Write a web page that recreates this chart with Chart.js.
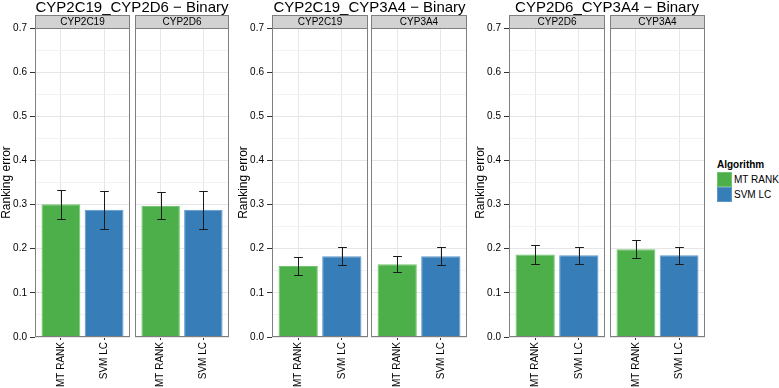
<!DOCTYPE html>
<html>
<head>
<meta charset="utf-8">
<script src="https://cdn.jsdelivr.net/npm/chart.js@4/dist/chart.umd.min.js"></script>
<style>
  body { margin: 0; background: #fff; }
  #wrap { position: relative; width: 779px; height: 388px; overflow: hidden; font-family: "Liberation Sans", Arial, sans-serif; color: #000; }
  canvas { position: absolute; top: 0; }
  .title { position: absolute; top: -1px; font-size: 15px; line-height: 15px; white-space: nowrap; transform: translateX(-50%); }
  .legTitle { position: absolute; left: 717px; top: 160px; font-size: 10px; line-height: 10px; font-weight: bold; }
  .key { position: absolute; left: 717px; width: 15px; height: 15px; box-sizing: border-box; border: 1px solid; }
  .keyLabel { position: absolute; left: 734px; font-size: 10px; line-height: 15px; white-space: nowrap; }
</style>
</head>
<body>
<div id="wrap"></div>
<script>
// data
const titles = ['CYP2C19_CYP2D6 \u2212 Binary', 'CYP2C19_CYP3A4 \u2212 Binary', 'CYP2D6_CYP3A4 \u2212 Binary'];
const facetNames = ['CYP2C19', 'CYP2D6', 'CYP2C19', 'CYP3A4', 'CYP2D6', 'CYP3A4'];
const algorithms = ['MT RANK', 'SVM LC'];
const mtRank = [0.301, 0.297, 0.161, 0.165, 0.187, 0.199];
const mtRankLow = [0.267, 0.267, 0.141, 0.147, 0.166, 0.179];
const mtRankHigh = [0.333, 0.328, 0.182, 0.183, 0.208, 0.220];
const svmLc = [0.288, 0.288, 0.183, 0.183, 0.185, 0.185];
const svmLcLow = [0.244, 0.244, 0.162, 0.162, 0.165, 0.165];
const svmLcHigh = [0.330, 0.330, 0.205, 0.205, 0.205, 0.205];
const yMax = 0.7;

// layout
const panels = [[35, 130], [135, 229], [272, 368], [371, 467], [509, 605], [610, 705]];
const plotTop = 28, plotBottom = 337, H = 388, axisW = 37;
const green = '#4daf4a', blue = '#377eb8';
const greenEdge = '#72c470', blueEdge = '#5d98cb';

Chart.defaults.font.family = '"Liberation Sans", Arial, sans-serif';
Chart.defaults.color = '#000';

const wrap = document.getElementById('wrap');

const isMinor = v => Math.round(v * 20) % 2 === 1;

const facetPlugin = {
  id: 'facet',
  afterDatasetsDraw(chart) {
    const ctx = chart.ctx;
    const meta = chart.getDatasetMeta(0);
    const ds = chart.data.datasets[0];
    const y = chart.scales.y, x = chart.scales.x;
    const half = x.getPixelForValue(0.1) - x.getPixelForValue(0);
    ctx.save();
    ctx.strokeStyle = '#1a1a1a';
    ctx.lineWidth = 1;
    meta.data.forEach((bar, j) => {
      const bx = Math.round(bar.x) + 0.5;
      const lo = Math.round(y.getPixelForValue(ds.errLow[j])) + 0.5;
      const hi = Math.round(y.getPixelForValue(ds.errHigh[j])) + 0.5;
      ctx.beginPath();
      ctx.moveTo(bx, lo); ctx.lineTo(bx, hi);
      ctx.moveTo(bx - half, lo); ctx.lineTo(bx + half, lo);
      ctx.moveTo(bx - half, hi); ctx.lineTo(bx + half, hi);
      ctx.stroke();
    });
    ctx.restore();
  },
  afterDraw(chart) {
    const ctx = chart.ctx;
    const a = chart.chartArea;
    ctx.save();
    ctx.strokeStyle = '#7f7f7f';
    ctx.lineWidth = 1;
    ctx.strokeRect(a.left + 0.5, a.top + 0.5, a.right - a.left - 1, a.bottom - a.top - 1);
    // strip
    const sTop = 15;
    ctx.fillStyle = '#d2d2d2';
    ctx.fillRect(a.left, sTop, a.right - a.left, a.top - sTop);
    ctx.strokeRect(a.left + 0.5, sTop + 0.5, a.right - a.left - 1, a.top - sTop);
    ctx.fillStyle = '#000';
    ctx.font = '10px "Liberation Sans", Arial, sans-serif';
    ctx.textAlign = 'center';
    ctx.textBaseline = 'middle';
    ctx.fillText(chart.options.plugins.facet.label, (a.left + a.right) / 2, (sTop + a.top) / 2 + 0.5);
    ctx.restore();
  }
};

panels.forEach((p, i) => {
  const first = i % 2 === 0;
  const left = first ? p[0] - axisW : p[0];
  const width = p[1] - left;
  const cv = document.createElement('canvas');
  cv.width = width;
  cv.height = H;
  cv.style.left = left + 'px';
  cv.style.width = width + 'px';
  cv.style.height = H + 'px';
  wrap.appendChild(cv);

  new Chart(cv, {
    type: 'bar',
    data: {
      datasets: [{
        data: [{x: 0, y: mtRank[i]}, {x: 1, y: svmLc[i]}],
        errLow: [mtRankLow[i], svmLcLow[i]],
        errHigh: [mtRankHigh[i], svmLcHigh[i]],
        backgroundColor: [green, blue],
        borderColor: [greenEdge, blueEdge],
        borderWidth: 1,
        barPercentage: 0.9,
        categoryPercentage: 1
      }]
    },
    options: {
      responsive: false,
      animation: false,
      devicePixelRatio: 1,
      layout: {padding: {top: plotTop, left: 0, right: 0, bottom: 0}},
      plugins: {
        legend: {display: false},
        tooltip: {enabled: false},
        facet: {label: facetNames[i]}
      },
      scales: {
        x: {
          type: 'linear',
          min: -0.6,
          max: 1.6,
          offset: false,
          afterBuildTicks: s => { s.ticks = algorithms.map((a, k) => ({value: k})); },
          afterFit: s => { s.height = H - plotBottom; },
          border: {display: false},
          grid: {color: '#e6e6e6', tickColor: '#333', tickLength: 3, offset: false},
          ticks: {
            callback: v => algorithms[v],
            minRotation: 90,
            maxRotation: 90,
            autoSkip: false,
            padding: 2,
            color: '#000',
            font: {size: 10}
          }
        },
        y: {
          min: 0,
          max: yMax,
          afterFit: s => { s.width = first ? axisW : 0; },
          border: {display: false},
          grid: {
            color: c => isMinor(c.tick.value) ? '#f3f3f3' : '#e6e6e6',
            tickColor: c => isMinor(c.tick.value) ? 'rgba(0,0,0,0)' : '#333',
            tickLength: first ? 5 : 0,
            drawTicks: first
          },
          ticks: {
            display: first,
            stepSize: 0.05,
            autoSkip: false,
            padding: 3,
            color: '#000',
            font: {size: 10},
            callback: v => isMinor(v) ? '' : v.toFixed(1)
          },
          title: {
            display: first,
            text: 'Ranking error',
            color: '#000',
            font: {size: 12},
            padding: {top: 1, bottom: 0}
          }
        }
      }
    },
    plugins: [facetPlugin]
  });
});

titles.forEach((t, g) => {
  const d = document.createElement('div');
  d.className = 'title';
  d.textContent = t;
  d.style.left = ((panels[2 * g][0] + panels[2 * g + 1][1]) / 2) + 'px';
  wrap.appendChild(d);
});

// legend
const lt = document.createElement('div');
lt.className = 'legTitle';
lt.textContent = 'Algorithm';
wrap.appendChild(lt);
algorithms.forEach((a, k) => {
  const top = 172 + k * 15;
  const key = document.createElement('div');
  key.className = 'key';
  key.style.top = top + 'px';
  key.style.background = k === 0 ? green : blue;
  key.style.borderColor = k === 0 ? greenEdge : blueEdge;
  wrap.appendChild(key);
  const lab = document.createElement('div');
  lab.className = 'keyLabel';
  lab.style.top = top + 'px';
  lab.textContent = a;
  wrap.appendChild(lab);
});
</script>
</body>
</html>
